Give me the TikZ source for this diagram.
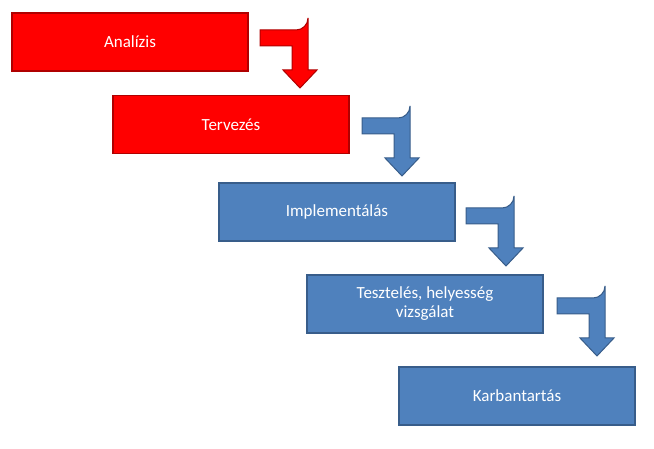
\documentclass[tikz,border=0pt]{standalone}
\usepackage{fontspec}
\setmainfont{Carlito}
\usetikzlibrary{positioning}
\definecolor{stepred}{HTML}{FF0000}
\definecolor{stepredline}{HTML}{B00000}
\definecolor{stepblue}{HTML}{4F81BD}
\definecolor{stepblueline}{HTML}{385D8A}
\tikzset{
  phase/.style={draw, line width=1.2pt, minimum width=236pt, minimum height=58pt,
    inner sep=0pt, align=center, text=white, font=\fontsize{17}{19}\selectfont},
  redphase/.style={phase, fill=stepred, draw=stepredline},
  bluephase/.style={phase, fill=stepblue, draw=stepblueline},
}
\newcommand{\bendarrow}[3]{%
  \fill[#3, draw=#3line, line width=1pt, shift={(#1,#2)}]
    (0,0) -- (36,0) arc (90:0:12) -- (48,40) -- (57,40) -- (40,58)
    -- (23,40) -- (32,40) -- (32,16) -- (0,16) -- cycle;}
\begin{document}
\begin{tikzpicture}[x=1pt,y=-1pt]
  \useasboundingbox (0,0) rectangle (654,449);
  % phases
  \node[redphase] (analizis) at (130,42) {Analízis};
  \node[redphase] (tervezes) at (231,124.5) {Tervezés};
  \node[bluephase] (impl) at (337,212) {Implementálás};
  \node[bluephase] (teszt) at (425,304) {Tesztelés, helyesség\\vizsgálat};
  \node[bluephase] (karb) at (517,396) {Karbantartás};
  % arrows between phases
  \bendarrow{260}{30}{stepred}
  \bendarrow{362}{118}{stepblue}
  \bendarrow{466}{208}{stepblue}
  \bendarrow{557}{298}{stepblue}
\end{tikzpicture}
\end{document}
